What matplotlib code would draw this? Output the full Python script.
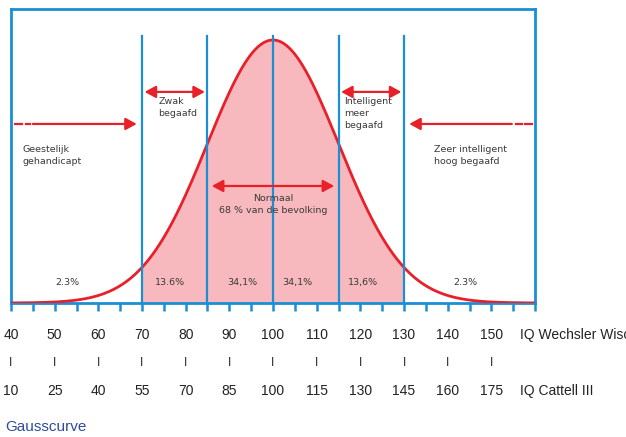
import numpy as np
import matplotlib.pyplot as plt

# IQ scales
wechsler = [40, 50, 60, 70, 80, 90, 100, 110, 120, 130, 140, 150]
cattell = [10, 25, 40, 55, 70, 85, 100, 115, 130, 145, 160, 175]
grenzen = [70, 85, 100, 115, 130]
percentages = ["2.3%", "13.6%", "34,1%", "34,1%", "13,6%", "2.3%"]
perc_x = [53, 76.5, 93, 105.5, 120.5, 144]
gemiddelde = 100
sd = 15

blauw = "#1a8fd6"
rood = "#e8202a"
roze = "#f7b9bd"
tekst = "#3a3a3a"

fig = plt.figure(figsize=(6.26, 4.37), dpi=100)
ax = fig.add_axes([11 / 626, 1 - 303 / 437, 524 / 626, 294 / 437])

x = np.linspace(40, 160, 600)
y = np.exp(-0.5 * ((x - gemiddelde) / sd) ** 2) / (sd * np.sqrt(2 * np.pi))
piek = y.max()

binnen = (x >= grenzen[0]) & (x <= grenzen[-1])
ax.fill_between(x[binnen], 0, y[binnen], color=roze, lw=0, zorder=1)
ax.plot(x, y, color=rood, lw=2, zorder=3)

ax.set_xlim(40, 160)
ax.set_ylim(0, piek * 294 / 263)

for g in grenzen:
    ax.axvline(g, ymin=0, ymax=267 / 294, color=blauw, lw=1.6, zorder=4)

for s in ax.spines.values():
    s.set_color(blauw)
    s.set_linewidth(2)

ax.set_xticks(np.arange(40, 161, 5))
ax.set_xticklabels([])
ax.set_yticks([])
ax.tick_params(axis="x", direction="out", length=6, width=1.8, color=blauw)

# pijlen
def pijl(x1, x2, yy, stijl):
    ax.annotate("", xy=(x2, yy), xytext=(x1, yy), xycoords=("data", "axes fraction"),
                arrowprops=dict(arrowstyle=stijl + ",head_length=0.55,head_width=0.3",
                                color=rood, lw=1.6, shrinkA=0, shrinkB=0,
                                mutation_scale=12), zorder=5)

pijl(45, 68.8, 0.609, "-|>")
pijl(70.6, 84.4, 0.718, "<|-|>")
pijl(115.6, 129.4, 0.718, "<|-|>")
pijl(86, 114, 0.398, "<|-|>")
pijl(154.7, 131.2, 0.609, "-|>")
# gestippelde uiteinden
for a, b in [(41, 42.6), (43.4, 44.4), (155.6, 157), (157.8, 159.3)]:
    ax.plot([a, b], [0.609, 0.609], color=rood, lw=1.6, transform=ax.get_xaxis_transform())

tr = ax.get_xaxis_transform()
fs = 6.8
ls = 1.45
ax.text(42.7, 0.537, "Geestelijk\ngehandicapt", transform=tr, fontsize=fs, color=tekst, va="top",
        linespacing=ls)
ax.text(73.7, 0.700, "Zwak\nbegaafd", transform=tr, fontsize=fs, color=tekst, va="top",
        linespacing=ls)
ax.text(116.3, 0.700, "Intelligent\nmeer\nbegaafd", transform=tr, fontsize=fs, color=tekst,
        va="top", linespacing=ls)
ax.text(136.9, 0.537, "Zeer intelligent\nhoog begaafd", transform=tr, fontsize=fs, color=tekst,
        va="top", linespacing=ls)
ax.text(100, 0.370, "Normaal\n68 % van de bevolking", transform=tr, fontsize=fs, color=tekst,
        va="top", ha="center", zorder=6, linespacing=ls)
for px, lab in zip(perc_x, percentages):
    ax.text(px, 0.071, lab, transform=tr, fontsize=fs, color=tekst, ha="center", va="center", zorder=6)

# schalen onder de grafiek
lf = "Liberation Sans"
for w, c in zip(wechsler, cattell):
    ax.text(w, -0.109, str(w), transform=tr, ha="center", va="center", fontsize=10, family=lf,
            color="#222222", clip_on=False)
    ax.text(w, -0.299, str(c), transform=tr, ha="center", va="center", fontsize=10, family=lf,
            color="#222222", clip_on=False)
for w in wechsler:
    ax.text(w, -0.204, "I", transform=tr, ha="center", va="center", fontsize=8.5, family=lf,
            color="#222222", clip_on=False)
ax.text(156.6, -0.109, "IQ Wechsler Wisc", transform=tr, ha="left", va="center", fontsize=10,
        family=lf, color="#222222", clip_on=False)
ax.text(156.6, -0.299, "IQ Cattell III", transform=tr, ha="left", va="center", fontsize=10,
        family=lf, color="#222222", clip_on=False)

fig.text(5 / 626, 1 - 427 / 437, "Gausscurve", fontsize=11, family=lf, color="#2e4a9a",
         ha="left", va="center")

fig.savefig("out.png", dpi=100)
